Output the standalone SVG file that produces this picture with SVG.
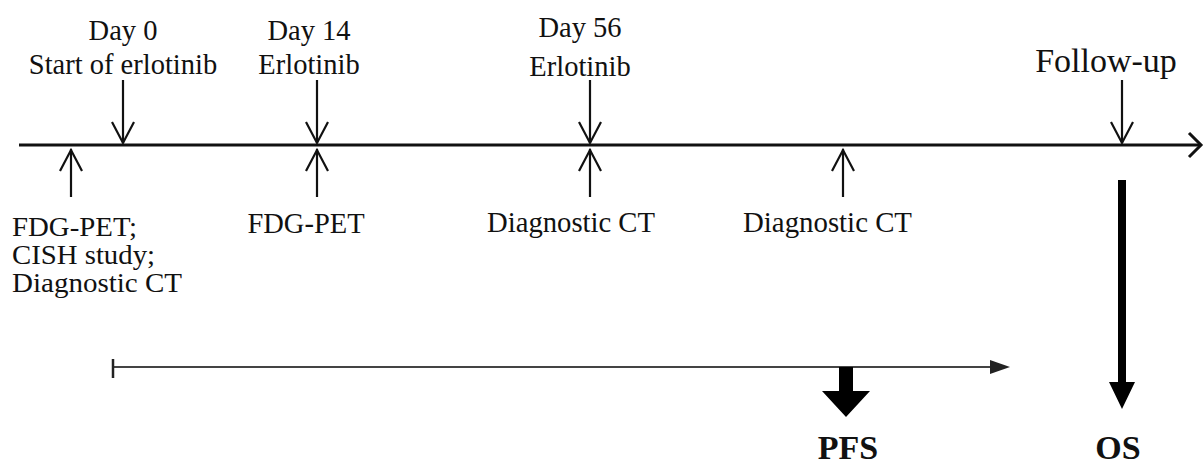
<svg xmlns="http://www.w3.org/2000/svg" width="1204" height="466" viewBox="0 0 1204 466">
<style>
text{font-family:"Liberation Serif","Times New Roman",serif;fill:#111;}
.t{font-size:28.5px;}
.s{font-size:26.5px;}
.c{text-anchor:middle;}
.b{font-weight:bold;font-size:34px;}
.ln{stroke:#111;stroke-width:2.2;fill:none;}
.ax{stroke:#111;stroke-width:3;fill:none;}
</style>
<g id="connectors">
<line class="ax" x1="19" y1="145" x2="1201" y2="145"/>
<polyline class="ax" points="1189,133 1201,145 1189,157"/>
<g id="down-arrows">
<line class="ln" x1="123" y1="80" x2="123" y2="143"/><polyline class="ln" points="112,122 123,143 134,122"/>
<line class="ln" x1="317" y1="80" x2="317" y2="143"/><polyline class="ln" points="306,122 317,143 328,122"/>
<line class="ln" x1="590" y1="80" x2="590" y2="143"/><polyline class="ln" points="579,122 590,143 601,122"/>
<line class="ln" x1="1122" y1="80" x2="1122" y2="143"/><polyline class="ln" points="1111,122 1122,143 1133,122"/>
</g>
<g id="up-arrows">
<line class="ln" x1="71" y1="149" x2="71" y2="197"/><polyline class="ln" points="60,171 71,150 82,171"/>
<line class="ln" x1="317" y1="149" x2="317" y2="197"/><polyline class="ln" points="306,171 317,150 328,171"/>
<line class="ln" x1="590" y1="149" x2="590" y2="197"/><polyline class="ln" points="579,171 590,150 601,171"/>
<line class="ln" x1="843" y1="149" x2="843" y2="197"/><polyline class="ln" points="832,171 843,150 854,171"/>
</g>
<g id="pfs-span">
<line x1="113" y1="367" x2="992" y2="367" stroke="#444" stroke-width="2.2"/>
<line x1="113" y1="359" x2="113" y2="378" stroke="#222" stroke-width="2.5"/>
<polygon points="990,360 1010,367 990,374" fill="#222"/>
</g>
<polygon id="pfs-arrow" points="839,367 853,367 853,391 870,391 846,417 822,391 839,391" fill="#000"/>
<polygon id="os-arrow" points="1118,180 1126,180 1126,382 1135,382 1122,409 1109,382 1118,382" fill="#000"/>
</g>
<g id="day0">
<text class="t c" x="123" y="40">Day 0</text>
<text class="t c" x="123" y="74">Start of erlotinib</text>
</g>
<g id="day14">
<text class="t c" x="309" y="40">Day 14</text>
<text class="t c" x="309" y="74">Erlotinib</text>
</g>
<g id="day56">
<text class="t c" x="580" y="37">Day 56</text>
<text class="t c" x="580" y="76">Erlotinib</text>
</g>
<g id="followup">
<text class="c" x="1106" y="72" style="font-size:34px">Follow-up</text>
</g>
<g id="baseline">
<text class="s" x="12" y="236" textLength="125" lengthAdjust="spacingAndGlyphs">FDG-PET;</text>
<text class="s" x="12" y="264" textLength="143" lengthAdjust="spacingAndGlyphs">CISH study;</text>
<text class="s" x="12" y="292" textLength="170" lengthAdjust="spacingAndGlyphs">Diagnostic CT</text>
</g>
<g id="pet14">
<text class="t c" x="306" y="233">FDG-PET</text>
</g>
<g id="ct56">
<text class="t" x="487" y="232" textLength="168" lengthAdjust="spacingAndGlyphs">Diagnostic CT</text>
</g>
<g id="ct2">
<text class="t" x="743" y="232" textLength="169" lengthAdjust="spacingAndGlyphs">Diagnostic CT</text>
</g>
<g id="pfs"><text class="b c" x="848" y="459">PFS</text></g>
<g id="os"><text class="b c" x="1118" y="459">OS</text></g>
</svg>
